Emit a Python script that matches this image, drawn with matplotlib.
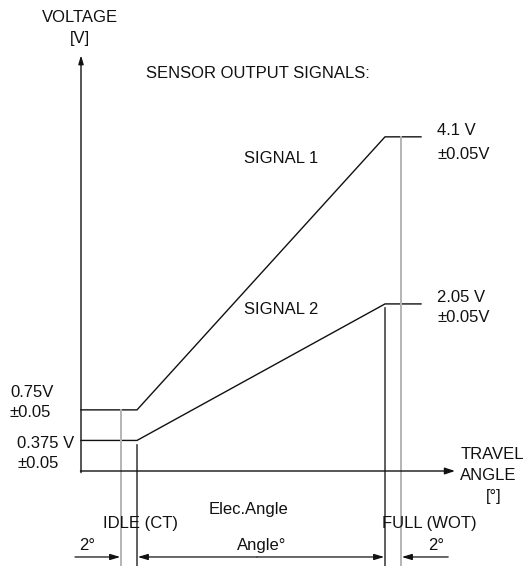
import matplotlib
matplotlib.use("Agg")
import matplotlib.pyplot as plt

# travel angle in degrees (arbitrary origin at the voltage axis)
idle_gray = 5.0      # idle minus 2 deg
idle_ct = 7.0        # idle (CT)
full_wot = 38.0      # full (WOT)
full_gray = 40.0     # full plus 2 deg
angle_end = 42.5
axis_end = 46.75

# voltages
sig1_lo, sig1_hi = 0.75, 4.1
sig2_lo, sig2_hi = 0.375, 2.05

sig1_x = [0, idle_ct, full_wot, angle_end]
sig1_y = [sig1_lo, sig1_lo, sig1_hi, sig1_hi]
sig2_x = [0, idle_ct, full_wot, angle_end]
sig2_y = [sig2_lo, sig2_lo, sig2_hi, sig2_hi]

plt.rcParams["font.family"] = ["Liberation Sans", "DejaVu Sans"]

fig = plt.figure(figsize=(5.25, 5.66), dpi=100)
ax = fig.add_axes([0, 0, 1, 1])
ax.set_xlim(-10.125, 55.5)
ax.set_ylim(-1.1656, 5.779)
ax.axis("off")

ink = "#111111"
gray = "#b4b4b4"
fs = 12
bottom = -1.17

# signals
ax.plot(sig1_x, sig1_y, color=ink, lw=1.0)
ax.plot(sig2_x, sig2_y, color=ink, lw=1.0)

# axes with arrows
ax.annotate("", xy=(0, 5.1), xytext=(0, -0.02),
            arrowprops=dict(arrowstyle="-|>,head_length=0.5,head_width=0.15", color=ink, lw=1.0,
                            shrinkA=0, shrinkB=0))
ax.annotate("", xy=(axis_end, 0), xytext=(-0.07, 0),
            arrowprops=dict(arrowstyle="-|>,head_length=0.6,head_width=0.2", color=ink, lw=1.0,
                            shrinkA=0, shrinkB=0))

# vertical reference lines
ax.plot([idle_gray, idle_gray], [sig1_lo, bottom], color=gray, lw=1.4)
ax.plot([idle_ct, idle_ct], [sig2_lo - 0.05, bottom], color="#444444", lw=1.2)
ax.plot([full_wot, full_wot], [sig2_hi - 0.05, bottom], color="#444444", lw=1.2)
ax.plot([full_gray, full_gray], [sig1_hi, bottom], color=gray, lw=1.4)

# dimension arrows
ydim = -1.055
arr = dict(arrowstyle="-|>,head_length=0.6,head_width=0.18", color=ink, lw=0.9,
           shrinkA=0, shrinkB=0)
ax.annotate("", xy=(idle_gray - 0.1, ydim), xytext=(-0.75, ydim), arrowprops=arr)
ax.annotate("", xy=(full_gray + 0.1, ydim), xytext=(45.9, ydim), arrowprops=arr)
ax.annotate("", xy=(idle_ct + 0.1, ydim), xytext=(22.0, ydim), arrowprops=arr)
ax.annotate("", xy=(full_wot - 0.1, ydim), xytext=(22.0, ydim), arrowprops=arr)

# texts
def t(x, y, s, ha="left"):
    ax.text(x, y, s, ha=ha, va="center", fontsize=fs, color=ink)

t(-0.125, 5.57, "VOLTAGE", "center")
t(-0.125, 5.31, "[V]", "center")
t(22.1, 4.88, "SENSOR OUTPUT SIGNALS:", "center")
t(25.0, 3.84, "SIGNAL 1", "center")
t(25.0, 1.98, "SIGNAL 2", "center")
t(44.5, 4.18, f"{sig1_hi} V")
t(44.5, 3.88, "±0.05V")
t(44.5, 2.13, f"{sig2_hi:.2f} V")
t(44.5, 1.88, "±0.05V")
t(-8.875, 0.96, f"{sig1_lo}V")
t(-8.875, 0.72, "±0.05")
t(-8.0, 0.34, f"{sig2_lo} V")
t(-8.0, 0.09, "±0.05")
t(47.4, 0.2, "TRAVEL")
t(47.4, -0.06, "ANGLE")
t(51.6, -0.31, "[°]", "center")
t(20.9, -0.47, "Elec.Angle", "center")
t(7.4, -0.64, "IDLE (CT)", "center")
t(43.6, -0.64, "FULL (WOT)", "center")
t(0.75, -0.92, "2°", "center")
t(22.6, -0.92, "Angle°", "center")
t(44.4, -0.92, "2°", "center")

fig.savefig("out.png", dpi=100, facecolor="white")
